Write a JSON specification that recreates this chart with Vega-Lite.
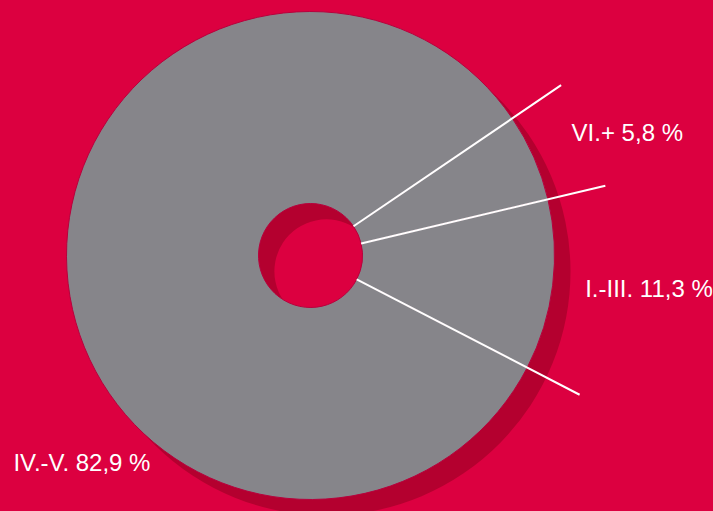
{
  "$schema": "https://vega.github.io/schema/vega-lite/v6.json",
  "width": 621,
  "height": 511,
  "autosize": {"type": "none"},
  "padding": {"left": 0, "top": 0, "right": 92, "bottom": 0},
  "background": "#DC0040",
  "config": {"view": {"stroke": null}},
  "data": {
    "values": [
      {"cat": "VI.+", "value": 5.8, "o": 1, "label": "VI.+ 5,8 %"},
      {"cat": "I.-III.", "value": 11.3, "o": 2, "label": "I.-III. 11,3 %"},
      {"cat": "IV.-V.", "value": 82.9, "o": 3, "label": "IV.-V. 82,9 %"}
    ]
  },
  "layer": [
    {
      "transform": [{"aggregate": [{"op": "sum", "field": "value", "as": "total"}]}],
      "mark": {"type": "arc", "radius": 244, "radius2": 52, "xOffset": 16, "yOffset": 16, "fill": "#B4002F"},
      "encoding": {
        "theta": {"field": "total", "type": "quantitative", "stack": true, "scale": {"domain": [0, 100], "range": [0.9739, 7.2571]}}
      }
    },
    {
      "mark": {"type": "arc", "radius": 244, "radius2": 52, "fill": "#86858A", "stroke": "#B8003C", "strokeWidth": 1},
      "encoding": {
        "theta": {"field": "value", "type": "quantitative", "stack": true, "scale": {"domain": [0, 100], "range": [0.9739, 7.2571]}},
        "detail": {"field": "cat"},
        "order": {"field": "o"}
      }
    },
    {
      "transform": [{"stack": "value", "groupby": [], "sort": [{"field": "o", "order": "ascending"}], "as": ["s0", "s1"]}],
      "mark": {"type": "arc", "radius": 303, "radius2": 52, "filled": false, "stroke": "white", "strokeWidth": 2},
      "encoding": {
        "theta": {"field": "s0", "type": "quantitative", "scale": {"domain": [0, 100], "range": [0.9739, 7.2571]}},
        "theta2": {"field": "s0"}
      }
    },
    {
      "mark": {"type": "text", "radius": 337, "align": "center", "baseline": "alphabetic", "font": "Liberation Sans", "fontSize": 24, "color": "white"},
      "encoding": {
        "theta": {"field": "value", "type": "quantitative", "stack": true, "bandPosition": 0.683, "scale": {"domain": [0, 100], "range": [0.9739, 7.2571]}},
        "detail": {"field": "cat"},
        "order": {"field": "o"},
        "text": {"condition": {"test": "datum.cat === 'VI.+'", "field": "label", "type": "nominal"}, "value": ""}
      }
    },
    {
      "mark": {"type": "text", "radius": 341, "align": "center", "baseline": "alphabetic", "font": "Liberation Sans", "fontSize": 24, "color": "white"},
      "encoding": {
        "theta": {"field": "value", "type": "quantitative", "stack": true, "bandPosition": 0.5, "scale": {"domain": [0, 100], "range": [0.9739, 7.2571]}},
        "detail": {"field": "cat"},
        "order": {"field": "o"},
        "text": {"condition": {"test": "datum.cat === 'I.-III.'", "field": "label", "type": "nominal"}, "value": ""}
      }
    },
    {
      "mark": {"type": "text", "radius": 314, "align": "center", "baseline": "alphabetic", "font": "Liberation Sans", "fontSize": 24, "color": "white"},
      "encoding": {
        "theta": {"field": "value", "type": "quantitative", "stack": true, "bandPosition": 0.3664, "scale": {"domain": [0, 100], "range": [0.9739, 7.2571]}},
        "detail": {"field": "cat"},
        "order": {"field": "o"},
        "text": {"condition": {"test": "datum.cat === 'IV.-V.'", "field": "label", "type": "nominal"}, "value": ""}
      }
    }
  ]
}
